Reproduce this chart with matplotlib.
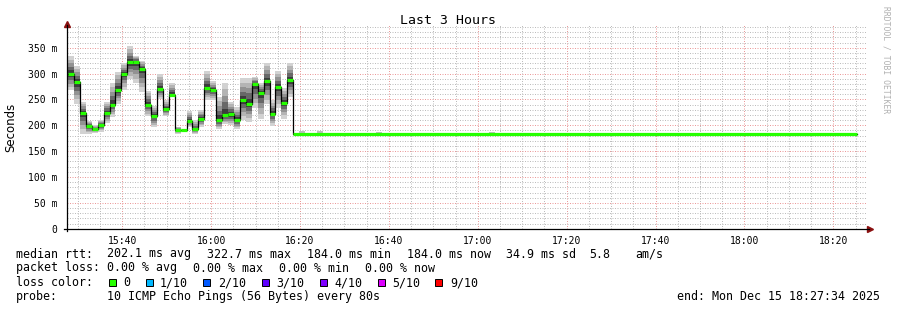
import numpy as np
import matplotlib
matplotlib.use("Agg")
import matplotlib.pyplot as plt
from matplotlib.ticker import MultipleLocator
from matplotlib.patches import Rectangle

W, H = 897, 310

# time axis in minutes since midnight
view_start = 15 * 60 + 27 + 34 / 60.0   # 15:27:34
view_end = view_start + 180            # 18:27:34
step_min = 80 / 60.0                   # probe every 80 s
first_step = 15 * 60 + 27 + 48 / 60.0  # 15:27:48

# median rtt per 80 s step (ms) until the drop
median_ms = [300, 283, 224, 198, 192, 200, 224, 240, 268, 299,
             322, 323, 309, 240, 218, 271, 231, 259, 191, 191,
             208, 192, 213, 273, 268, 211, 220, 221, 211, 248,
             242, 279, 262, 285, 222, 274, 244, 287]
smoke_lo = [268, 242, 184, 184, 186, 188, 204, 217, 242, 269,
            289, 282, 265, 218, 196, 251, 218, 257, 184, 188,
            197, 184, 197, 249, 249, 192, 202, 200, 192, 210,
            207, 233, 213, 241, 199, 233, 213, 255]
smoke_hi = [334, 315, 245, 209, 200, 211, 246, 282, 304, 320,
            353, 334, 325, 267, 237, 300, 249, 282, 197, 191,
            228, 210, 229, 305, 285, 255, 282, 246, 235, 291,
            291, 294, 282, 321, 249, 305, 273, 321]

# after 16:18 the rtt stays flat
flat_ms = 184.0
flat_end = 18 * 60 + 25 + 20 / 60.0
blip_t = [979.8, 983.8, 997.1, 1022.5]
blip_hi = [189, 189, 188, 188]

loss_labels = ["0", "1/10", "2/10", "3/10", "4/10", "5/10", "9/10"]
loss_colors = ["#26ff00", "#00b8ff", "#0059ff", "#5e00ff", "#7e00ff", "#dd00ff", "#ff0000"]

mono = "DejaVu Sans Mono"

fig = plt.figure(figsize=(W / 100, H / 100), dpi=100)
fig.patch.set_facecolor("white")

x0, x1 = 67, 867
y0, y1 = 228.7, 25
ax = fig.add_axes([x0 / W, 1 - y0 / H, (x1 - x0) / W, (y0 - y1) / H])
ax.set_xlim(view_start, view_end)
ax.set_ylim(0, 394)

# dotted grid, rrdtool style
ax.xaxis.set_major_locator(MultipleLocator(20))
ax.xaxis.set_minor_locator(MultipleLocator(5))
ax.yaxis.set_major_locator(MultipleLocator(50))
ax.yaxis.set_minor_locator(MultipleLocator(10))
ax.grid(which="minor", color="#bdbdbd", linestyle=(0, (1, 1.5)), linewidth=0.72)
ax.grid(which="major", color="#eb9a9a", linestyle=(0, (1, 1.5)), linewidth=0.72)
ax.set_axisbelow(True)

n = len(median_ms)
edges = first_step + np.arange(n + 1) * step_min
flat_start = edges[-1]

# smoke: shaded from outer spread towards the median
med = np.array(median_ms, float)
lo = np.array(smoke_lo, float)
hi = np.array(smoke_hi, float)
shades = [(1.0, "#d2d2d2"), (0.8, "#b4b4b4"), (0.6, "#929292"), (0.4, "#686868"), (0.2, "#3c3c3c")]
for frac, col in shades:
    a = med - frac * (med - lo)
    b = med + frac * (hi - med)
    ax.fill_between(edges, np.append(a, a[-1]), np.append(b, b[-1]),
                    step="post", color=col, linewidth=0, zorder=2)

for t, h in zip(blip_t, blip_hi):
    ax.fill_between([t, t + step_min], flat_ms, h, color="#bdbdbd", linewidth=0, zorder=2)

# median line, loss colour on top
xs = list(edges[:-1]) + [flat_start, flat_end]
ys = list(median_ms) + [flat_ms, flat_ms]
ax.step(xs, ys, where="post", color="black", linewidth=0.9, zorder=3)
ax.hlines(median_ms, edges[:-1], edges[1:], color=loss_colors[0], linewidth=2.3, zorder=4)
ax.hlines([flat_ms], [flat_start], [flat_end], color=loss_colors[0], linewidth=2.3, zorder=4)

# axes and ticks
for s in ax.spines.values():
    s.set_visible(False)
ax.tick_params(which="both", length=0)
ax.tick_params(axis="x", pad=5)
ax.tick_params(axis="y", pad=7)
ax.set_xticks(np.arange(940, 1101, 20))
ax.set_xticklabels(["15:40", "16:00", "16:20", "16:40", "17:00", "17:20", "17:40", "18:00", "18:20"],
                   fontfamily=mono, fontsize=7)
yt = np.arange(0, 351, 50)
ax.set_yticks(yt)
ax.set_yticklabels(["0"] + ["%d m" % v for v in yt[1:]], fontfamily=mono, fontsize=7)

ax.plot([0, 0], [-0.012, 1.0], color="black", lw=0.9, transform=ax.transAxes, clip_on=False, zorder=5)
ax.plot([-0.004, 1.003], [0, 0], color="black", lw=0.9, transform=ax.transAxes, clip_on=False, zorder=5)
ax.plot([0], [1.005], marker="^", color="#8b1010", ms=4, transform=ax.transAxes, clip_on=False)
ax.plot([1.004], [0], marker=">", color="#8b1010", ms=4, transform=ax.transAxes, clip_on=False)


def put(x, y, s, **kw):
    kw.setdefault("fontfamily", mono)
    kw.setdefault("fontsize", 8.4)
    kw.setdefault("va", "center")
    fig.text(x / W, 1 - y / H, s, **kw)


put(448, 20, "Last 3 Hours", ha="center", fontsize=9.5)
put(11, 127, "Seconds", ha="center", rotation=90, fontfamily="DejaVu Sans", fontsize=8.5)
put(886, 60, "RRDTOOL / TOBI OETIKER", ha="center", rotation=270, fontsize=5.8, color="#b0b0b0")

# legend lines
put(16, 254, "median rtt:")
put(107, 254, "202.1 ms avg")
put(207, 254, "322.7 ms max")
put(307, 254, "184.0 ms min")
put(407, 254, "184.0 ms now")
put(506, 254, "34.9 ms sd")
put(589, 254, "5.8")
put(635, 254, "am/s")

put(16, 268, "packet loss:")
put(107, 268, "0.00 % avg")
put(193, 268, "0.00 % max")
put(279, 268, "0.00 % min")
put(365, 268, "0.00 % now")

put(16, 282.5, "loss color:")
sq_x = [109, 146, 203, 262, 320, 378, 435]
lab_x = [123, 160, 218, 276, 334, 392, 450]
for sx, lx, lab, col in zip(sq_x, lab_x, loss_labels, loss_colors):
    fig.patches.append(Rectangle((sx / W, 1 - 286 / H), 7 / W, 7 / H, transform=fig.transFigure,
                                 facecolor=col, edgecolor="black", linewidth=0.7))
    put(lx, 282.5, lab)

put(16, 296.5, "probe:")
put(107, 296.5, "10 ICMP Echo Pings (56 Bytes) every 80s")
put(880, 296.5, "end: Mon Dec 15 18:27:34 2025", ha="right")

fig.savefig("out.png", dpi=100)
